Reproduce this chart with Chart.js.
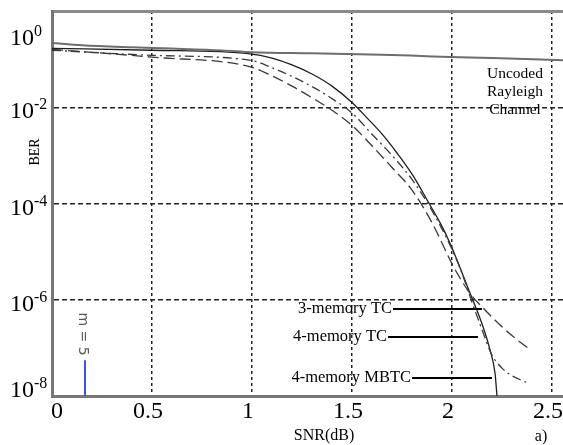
<!DOCTYPE html>
<html>
<head>
<meta charset="utf-8">
<script src="https://cdn.jsdelivr.net/npm/chart.js@4.4.1/dist/chart.umd.min.js"></script>
<style>
  html, body { margin: 0; padding: 0; background: #fff; }
  #wrap { width: 563px; height: 445px; }
</style>
</head>
<body>
<div id="wrap"><canvas id="berChart" width="563" height="445"></canvas></div>
<script>
// SNR (dB) / BER values
const snrUncoded = [0, 0.15, 0.4, 0.6, 0.85, 1.0, 1.3, 1.65, 1.9, 2.2, 2.555];
const berUncoded = [0.217, 0.194, 0.176, 0.166, 0.152, 0.139, 0.132, 0.124, 0.114, 0.105, 0.095];

const snrMbtc4 = [0, 0.5, 0.99, 1.1, 1.2, 1.3, 1.4, 1.5, 1.575, 1.655, 1.725, 1.805, 1.88, 1.94, 1.99, 2.09, 2.155, 2.19, 2.215, 2.225];
const berMbtc4 = [0.168, 0.153, 0.129, 0.105, 0.0759, 0.049, 0.0275, 0.0126, 6.0e-3, 2.63e-3, 1.12e-3, 3.8e-4, 1.1e-4, 4.0e-5, 1.5e-5, 1.38e-6, 2.75e-7, 9.1e-8, 3.0e-8, 1.0e-8];

const snrTc4 = [0, 0.5, 1.0, 1.1, 1.2, 1.3, 1.4, 1.5, 1.6, 1.7, 1.8, 1.9, 2.0, 2.05, 2.1, 2.15, 2.2, 2.25, 2.3, 2.375];
const berTc4 = [0.153, 0.120, 0.0933, 0.0661, 0.0437, 0.0269, 0.0151, 7.6e-3, 2.75e-3, 1.0e-3, 3.16e-4, 7.1e-5, 1.12e-5, 3.55e-6, 8.9e-7, 2.4e-7, 7.1e-8, 3.8e-8, 2.63e-8, 1.9e-8];

const snrTc3 = [0, 0.5, 1.0, 1.1, 1.2, 1.3, 1.4, 1.5, 1.6, 1.7, 1.8, 1.9, 2.0, 2.05, 2.1, 2.15, 2.24, 2.325, 2.38];
const berTc3 = [0.160, 0.110, 0.0676, 0.0447, 0.0275, 0.0158, 8.7e-3, 4.2e-3, 1.58e-3, 5.6e-4, 1.9e-4, 4.0e-5, 5.6e-6, 2.4e-6, 1.2e-6, 7.1e-7, 3.0e-7, 1.48e-7, 1.0e-7];

// m = 5 marker (blue stub)
const markerSnr = [0.165, 0.165];
const markerBer = [1e-8, 5.5e-8];

// callouts: label, y level, line start / end (SNR)
const calloutLabels = ["3-memory TC", "4-memory TC", "4-memory MBTC"];
const calloutBer = [6.4e-7, 1.68e-7, 2.37e-8];
const calloutFrom = [1.705, 1.68, 1.80];
const calloutTo = [2.15, 2.13, 2.20];

const xTicks = [0, 0.5, 1, 1.5, 2, 2.5];
const yTickExps = [0, -2, -4, -6, -8];
const uncodedLines = ["Uncoded", "Rayleigh", "Channel"];

const serif = "'Liberation Serif', 'Times New Roman', serif";

function toPoints(xs, ys) {
  return xs.map((x, i) => ({ x: x, y: ys[i] }));
}

const curve = { cubicInterpolationMode: "monotone" };

const datasets = [
  { ...curve, data: toPoints(snrUncoded, berUncoded), borderColor: "#6e6e6e", borderWidth: 2 },
  { ...curve, data: toPoints(snrTc3, berTc3), borderColor: "#3a3a3a", borderWidth: 1.3, borderDash: [11, 5] },
  { ...curve, data: toPoints(snrTc4, berTc4), borderColor: "#3a3a3a", borderWidth: 1.3, borderDash: [9, 4, 2, 4] },
  { ...curve, data: toPoints(snrMbtc4, berMbtc4), borderColor: "#1e1e1e", borderWidth: 1.3 },
  { data: toPoints(markerSnr, markerBer), borderColor: "#3f4fff", borderWidth: 2 }
];

calloutLabels.forEach((lbl, i) => {
  datasets.push({
    data: [{ x: calloutFrom[i], y: calloutBer[i] }, { x: calloutTo[i], y: calloutBer[i] }],
    borderColor: "#000",
    borderWidth: 2
  });
});

const textPlugin = {
  id: "textPlugin",
  afterDraw(chart) {
    const { ctx, chartArea, scales: { x, y } } = chart;
    ctx.save();
    ctx.fillStyle = "#000";

    // y tick labels 10^n
    yTickExps.forEach(e => {
      const pix = y.getPixelForValue(Math.pow(10, e));
      const base = Math.min(Math.max(pix + 11, chartArea.top + 34), chartArea.bottom + 1);
      ctx.textAlign = "left";
      ctx.textBaseline = "alphabetic";
      ctx.font = "24px " + serif;
      ctx.fillText("10", 10, base);
      const w = ctx.measureText("10").width;
      ctx.font = "16px " + serif;
      ctx.fillText(String(e), 10 + w, base - 9);
    });

    // x tick labels
    ctx.font = "24px " + serif;
    ctx.textAlign = "center";
    xTicks.forEach(v => {
      const px = x.getPixelForValue(v) + (v === 0 ? 5 : -4);
      ctx.fillText(String(v), px, 418);
    });

    // axis titles
    ctx.font = "16px " + serif;
    ctx.textBaseline = "middle";
    ctx.fillText("SNR(dB)", 324, 436);
    ctx.fillText("a)", 541, 437);
    ctx.save();
    ctx.translate(35, 152);
    ctx.rotate(-Math.PI / 2);
    ctx.font = "14px " + serif;
    ctx.fillText("BER", 0, 0);
    ctx.restore();

    // uncoded note
    ctx.font = "15.5px " + serif;
    uncodedLines.forEach((t, i) => ctx.fillText(t, 515, 74 + i * 18));

    // callout texts
    ctx.font = "16.5px " + serif;
    ctx.textAlign = "right";
    calloutLabels.forEach((t, i) => {
      const px = x.getPixelForValue(calloutFrom[i]) - 1;
      const py = y.getPixelForValue(calloutBer[i]);
      ctx.fillText(t, px, py);
    });

    // m = 5 rotated label
    ctx.save();
    ctx.translate(83, 334);
    ctx.rotate(Math.PI / 2);
    ctx.textAlign = "center";
    ctx.fillStyle = "#5a5a5a";
    ctx.font = "14px 'DejaVu Sans', sans-serif";
    ctx.fillText("m = 5", 0, 0);
    ctx.restore();

    ctx.restore();
  }
};

new Chart(document.getElementById("berChart"), {
  type: "line",
  data: { datasets: datasets },
  options: {
    responsive: false,
    animation: false,
    layout: { padding: { top: 11, left: 0, right: 0, bottom: 0 } },
    plugins: { legend: { display: false }, tooltip: { enabled: false } },
    elements: { point: { radius: 0 }, line: { tension: 0, fill: false } },
    scales: {
      x: {
        type: "linear",
        min: 0,
        max: 2.555,
        afterBuildTicks: s => { s.ticks = xTicks.map(v => ({ value: v })); },
        afterFit: s => { s.height = 49; },
        ticks: { display: false },
        grid: {
          drawTicks: false,
          lineWidth: 1.5,
          color: c => (c.tick && c.tick.value === 0 ? "rgba(0,0,0,0)" : "#222")
        },
        border: { color: "#777", width: 3, dash: [3, 3] }
      },
      xTop: {
        type: "linear",
        position: "top",
        min: 0,
        max: 1,
        afterFit: s => { s.height = 0; },
        ticks: { display: false },
        grid: { display: false, drawTicks: false },
        border: { color: "#8a8a8a", width: 3 }
      },
      y: {
        type: "logarithmic",
        min: 1e-8,
        max: 1,
        afterBuildTicks: s => { s.ticks = yTickExps.map(e => ({ value: Math.pow(10, e) })); },
        afterFit: s => { s.width = 52; },
        ticks: { display: false },
        grid: {
          drawTicks: false,
          lineWidth: 1.5,
          color: c => {
            if (!c.tick) return "#222";
            const v = c.tick.value;
            return (v <= 1.5e-8 || v >= 0.9) ? "rgba(0,0,0,0)" : "#222";
          }
        },
        border: { color: "#777", width: 3, dash: [5, 3] }
      }
    }
  },
  plugins: [textPlugin]
});
</script>
</body>
</html>
